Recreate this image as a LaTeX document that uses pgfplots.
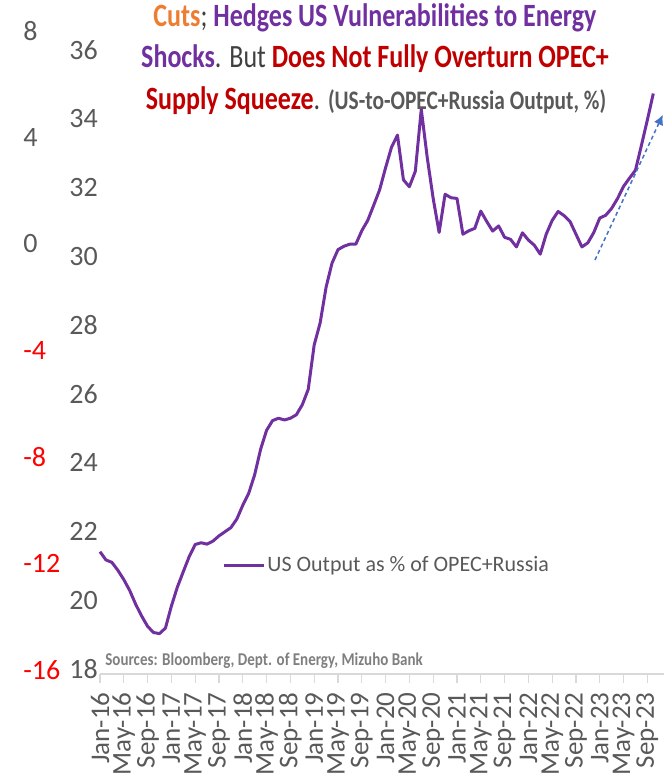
\documentclass[border=0pt]{standalone}
\usepackage{pgfplots}
\pgfplotsset{compat=1.18}
\usepackage{pgfplotstable}
\usepackage{graphicx}
\usetikzlibrary{arrows.meta}
\usepackage{fontspec}
\setmainfont{Carlito}
\definecolor{uspurple}{HTML}{7030A0}
\definecolor{cutorange}{HTML}{ED7D31}
\definecolor{darkred}{HTML}{C00000}
\definecolor{txtgray}{HTML}{595959}
\definecolor{butgray}{HTML}{404040}
\definecolor{srcgray}{HTML}{7F7F7F}
\definecolor{arrowblue}{HTML}{4472C4}
\definecolor{axgray}{HTML}{D9D9D9}

\pgfplotstableread{
m v
0 21.41
1 21.17
2 21.10
3 20.87
4 20.60
5 20.28
6 19.88
7 19.54
8 19.24
9 19.06
10 19.03
11 19.19
12 19.83
13 20.38
14 20.83
15 21.27
16 21.62
17 21.67
18 21.63
19 21.72
20 21.87
21 21.99
22 22.11
23 22.36
24 22.76
25 23.11
26 23.65
27 24.39
28 24.94
29 25.22
30 25.29
31 25.24
32 25.29
33 25.39
34 25.68
35 26.13
36 27.42
37 28.06
38 29.10
39 29.80
40 30.19
41 30.29
42 30.35
43 30.35
44 30.74
45 31.04
46 31.48
47 31.93
48 32.57
49 33.17
50 33.52
51 32.22
52 32.02
53 32.47
54 34.27
55 32.87
56 31.68
57 30.69
58 31.80
59 31.70
60 31.68
61 30.64
62 30.74
63 30.81
64 31.31
65 31.01
66 30.73
67 30.88
68 30.55
69 30.49
70 30.27
71 30.68
72 30.47
73 30.32
74 30.06
75 30.64
76 31.04
77 31.30
78 31.18
79 31.01
80 30.64
81 30.27
82 30.39
83 30.69
84 31.11
85 31.19
86 31.39
87 31.68
88 32.03
89 32.27
90 32.50
91 33.22
92 33.96
93 34.73
}\usdata

\begin{document}
\begin{tikzpicture}
% outer (left) axis: -16 .. 8
\begin{axis}[
  at={(0,0)}, anchor=south west, scale only axis,
  width=282pt, height=321.5pt,
  xmin=0, xmax=94.8, ymin=-16.15, ymax=8,
  hide x axis,
  axis y line*=left, y axis line style={draw=none},
  ytick={-16,-12,-8,-4,0,4,8},
  yticklabels={\textcolor{red}{-16},\textcolor{red}{-12},\textcolor{red}{-8},\textcolor{red}{-4},\textcolor{txtgray}{0},\textcolor{txtgray}{4},\textcolor{txtgray}{8}},
  ytick style={draw=none},
  yticklabel style={anchor=west, inner sep=0pt, xshift=-38.5pt, font=\fontsize{14}{16}\selectfont},
  /pgf/number format/assume math mode=true,
]
\end{axis}
% main axis
\begin{axis}[
  at={(0,0)}, anchor=south west, scale only axis,
  width=282pt, height=321.5pt,
  xmin=0, xmax=94.8, ymin=17.855, ymax=36.547,
  axis x line*=bottom, axis y line*=left,
  y axis line style={draw=none},
  x axis line style={draw=axgray, line width=0.6pt},
  ytick={18,20,...,36},
  yticklabels={18,20,22,24,26,28,30,32,34,36},
  ytick style={draw=none},
  yticklabel style={anchor=west, inner sep=0pt, xshift=-11pt, text=txtgray, font=\fontsize{14}{16}\selectfont},
  xtick={0,4,...,92},
  xticklabels={Jan-16,May-16,Sep-16,Jan-17,May-17,Sep-17,Jan-18,May-18,Sep-18,Jan-19,May-19,Sep-19,Jan-20,May-20,Sep-20,Jan-21,May-21,Sep-21,Jan-22,May-22,Sep-22,Jan-23,May-23,Sep-23},
  xticklabel style={rotate=90, anchor=east, inner sep=0pt, text=txtgray, font=\fontsize{13.5}{15}\selectfont},
  xticklabel shift=4.5pt,
  x tick style={draw=axgray, line width=0.6pt},
  tick align=outside, major tick length=4.5pt,
  clip=false,
  /pgf/number format/assume math mode=true,
  legend style={at={(0.2163,0.1695)}, anchor=west, draw=none, fill=none, inner sep=0pt,
    font=\fontsize{11}{13}\selectfont, text=txtgray, nodes={inner sep=1pt}},
  legend image code/.code={\draw[#1] (0pt,0pt) -- (20pt,0pt);},
]
\addplot[uspurple, line width=1.5pt, line join=round] table[x=m, y=v] {\usdata};
\addlegendentry{US Output as \% of OPEC+Russia}
\draw[arrowblue, dashed, dash pattern=on 2pt off 1.5pt, line width=0.75pt, -{Latex[length=5pt,width=5pt]}]
  (axis cs:83.2,29.89) -- (axis cs:94.6,34.11);
\end{axis}
% title
\node[anchor=base, inner sep=0pt] at (137.5pt,323.5pt) {\scalebox{1}[1.25]{\fontsize{13}{15}\selectfont\bfseries
  \textcolor{cutorange}{Cuts}\textcolor{butgray}{\mdseries;} \textcolor{uspurple}{Hedges US Vulnerabilities to Energy}}};
\node[anchor=base, inner sep=0pt] at (137.5pt,303pt) {\scalebox{1}[1.25]{\fontsize{13}{15}\selectfont
  \textcolor{uspurple}{\bfseries Shocks}\textcolor{butgray}{. But} \textcolor{darkred}{\bfseries Does Not Fully Overturn OPEC+}}};
\node[anchor=base, inner sep=0pt] at (138pt,282pt) {\scalebox{1}[1.25]{\fontsize{13}{15}\selectfont
  \textcolor{darkred}{\bfseries Supply Squeeze}\textcolor{butgray}{.} \textcolor{txtgray}{\bfseries\fontsize{10.7}{12}\selectfont (US-to-OPEC+Russia Output, \%)}}};
% sources
\node[anchor=base west, inner sep=0pt] at (2.5pt,4pt) {\scalebox{1}[1.2]{\fontsize{7.5}{9}\selectfont\bfseries\textcolor{srcgray}{Sources: Bloomberg, Dept. of Energy, Mizuho Bank}}};
\pgfresetboundingbox
\path[use as bounding box] (-50pt,-52.5pt) rectangle (282pt,337pt);
\end{tikzpicture}
\end{document}
